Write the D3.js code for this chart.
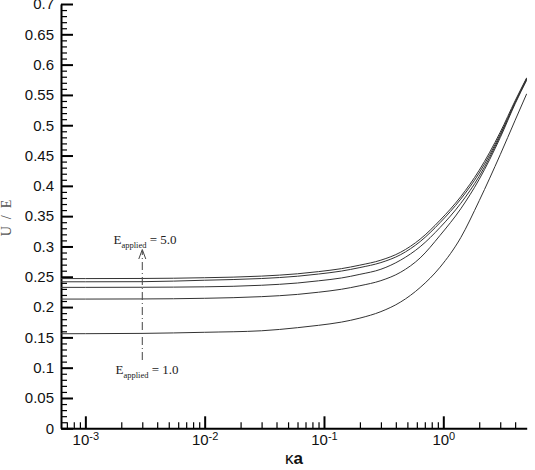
<!DOCTYPE html>
<html>
<head>
<meta charset="utf-8">
<script src="https://cdn.jsdelivr.net/npm/d3@7"></script>
<style>
  body { margin: 0; background: #fff; }
  svg text { font-family: "Liberation Sans", Arial, sans-serif; }
</style>
</head>
<body>
<div id="chart"></div>
<script>
// kappa*a sample points (log spaced) and mobility U/E for each applied field
const kaValues = [0.000625, 0.001, 0.003, 0.01, 0.03, 0.06, 0.09, 0.14, 0.2, 0.3, 0.44, 0.64, 0.94, 1.4, 2.0, 3.0, 4.0, 5.0];
const mobE1 = [0.1560, 0.1561, 0.1566, 0.1584, 0.1609, 0.1660, 0.1699, 0.1752, 0.1818, 0.1925, 0.2085, 0.2323, 0.2659, 0.3145, 0.3755, 0.4514, 0.5082, 0.5519];
const mobE2 = [0.2132, 0.2132, 0.2134, 0.2145, 0.2172, 0.2209, 0.2245, 0.2294, 0.2352, 0.2436, 0.2576, 0.2811, 0.3184, 0.3621, 0.4108, 0.4795, 0.5354, 0.5743];
const mobE3 = [0.2325, 0.2325, 0.2327, 0.2334, 0.2360, 0.2397, 0.2433, 0.2480, 0.2540, 0.2624, 0.2776, 0.2996, 0.3314, 0.3711, 0.4158, 0.4825, 0.5374, 0.5763];
const mobE4 = [0.2417, 0.2417, 0.2419, 0.2443, 0.2471, 0.2509, 0.2545, 0.2594, 0.2652, 0.2734, 0.2866, 0.3081, 0.3394, 0.3781, 0.4213, 0.4850, 0.5379, 0.5773];
const mobE5 = [0.2470, 0.2470, 0.2472, 0.2484, 0.2511, 0.2549, 0.2585, 0.2634, 0.2692, 0.2774, 0.2906, 0.3121, 0.3434, 0.3821, 0.4258, 0.4885, 0.5404, 0.5783];
const seriesList = [mobE1, mobE2, mobE3, mobE4, mobE5];

const xMajorTicks = [0.001, 0.01, 0.1, 1];
const yMajorTicks = [0, 0.05, 0.1, 0.15, 0.2, 0.25, 0.3, 0.35, 0.4, 0.45, 0.5, 0.55, 0.6, 0.65, 0.7];

const width = 535, height = 470;
const svg = d3.select("#chart").append("svg")
    .attr("width", width)
    .attr("height", height);

const x = d3.scaleLog().domain([0.000625, 5]).range([61, 526.7]);
const y = d3.scaleLinear().domain([0, 0.7]).range([428.3, 4]);

// minor ticks
const xMinor = [];
for (let e = -4; e <= 0; e++) {
    for (let m = 2; m <= 9; m++) {
        const v = m * Math.pow(10, e);
        if (v > 0.000625 && v < 5) xMinor.push(v);
    }
}
const yMinor = d3.range(0, 71).map(i => i / 100).filter(v => Math.round(v * 100) % 5 !== 0);

svg.append("g")
    .attr("transform", "translate(0,428.3)")
    .call(d3.axisBottom(x).tickValues(xMinor).tickSizeInner(-6).tickSizeOuter(0).tickFormat(""))
    .call(g => g.select(".domain").remove())
    .selectAll("line").attr("stroke-width", 1.2);

svg.append("g")
    .attr("transform", "translate(61,0)")
    .call(d3.axisLeft(y).tickValues(yMinor).tickSizeInner(-6).tickSizeOuter(0).tickFormat(""))
    .call(g => g.select(".domain").remove())
    .selectAll("line").attr("stroke-width", 1.2);

// major axes
const xAxis = svg.append("g")
    .attr("transform", "translate(0,428.3)")
    .call(d3.axisBottom(x).tickValues(xMajorTicks).tickSizeInner(-12).tickSizeOuter(0).tickPadding(6));
xAxis.select(".domain").attr("stroke-width", 2);
xAxis.selectAll(".tick line").attr("stroke-width", 2);
xAxis.selectAll(".tick text")
    .attr("font-size", 15)
    .attr("fill", "#111")
    .each(function(d) {
        const t = d3.select(this).text(null);
        t.append("tspan").text("10");
        t.append("tspan").attr("dy", "-0.45em").attr("font-size", 11).text(Math.round(Math.log10(d)));
    });

const yAxis = svg.append("g")
    .attr("transform", "translate(61,0)")
    .call(d3.axisLeft(y).tickValues(yMajorTicks).tickSizeInner(-12).tickSizeOuter(0).tickPadding(7)
        .tickFormat(d => d3.format("")(+d.toFixed(2))));
yAxis.select(".domain").attr("stroke-width", 2);
yAxis.selectAll(".tick line").attr("stroke-width", 2);
yAxis.selectAll(".tick text").attr("font-size", 15).attr("fill", "#111");

// axis titles
const xTitle = svg.append("text")
    .attr("x", 294).attr("y", 464)
    .attr("text-anchor", "middle")
    .attr("font-size", 17)
    .attr("fill", "#111");
xTitle.append("tspan").text("κ");
xTitle.append("tspan").attr("font-weight", "bold").text("a");

svg.append("text")
    .attr("transform", "translate(11,218) rotate(-90)")
    .attr("text-anchor", "middle")
    .style("font-family", "'Liberation Serif', 'Times New Roman', serif")
    .attr("font-size", 14)
    .attr("fill", "#555")
    .attr("xml:space", "preserve")
    .text("U  /  E");

// curves
const line = d3.line()
    .x((d, i) => x(kaValues[i]))
    .y(d => y(d))
    .curve(d3.curveMonotoneX);

svg.append("defs").append("clipPath").attr("id", "plotClip")
    .append("rect").attr("x", 61).attr("y", 0).attr("width", 466).attr("height", 428);

svg.append("g").attr("clip-path", "url(#plotClip)")
    .selectAll("path.curve")
    .data(seriesList)
    .enter().append("path")
    .attr("class", "curve")
    .attr("d", line)
    .attr("fill", "none")
    .attr("stroke", "#333")
    .attr("stroke-width", 1);

// annotation: arrow from E=1.0 to E=5.0
const arrowX = x(0.003);
svg.append("line")
    .attr("x1", arrowX).attr("x2", arrowX)
    .attr("y1", 360).attr("y2", 251)
    .attr("stroke", "#444").attr("stroke-width", 1)
    .attr("stroke-dasharray", "8,3,1,3");
svg.append("path")
    .attr("d", `M${arrowX - 3.5},259 L${arrowX},249.5 L${arrowX + 3.5},259`)
    .attr("fill", "none").attr("stroke", "#444").attr("stroke-width", 1);

function fieldLabel(lx, ly, val) {
    const t = svg.append("text")
        .attr("x", lx).attr("y", ly)
        .style("font-family", "'Liberation Serif', 'Times New Roman', serif")
        .attr("font-size", 13)
        .attr("fill", "#222");
    t.append("tspan").text("E");
    t.append("tspan").attr("dy", 4).attr("font-size", 8.5).text("applied");
    t.append("tspan").attr("dy", -4).text(" = " + val);
}
fieldLabel(113.5, 243.5, "5.0");
fieldLabel(115.5, 374, "1.0");
</script>
</body>
</html>
